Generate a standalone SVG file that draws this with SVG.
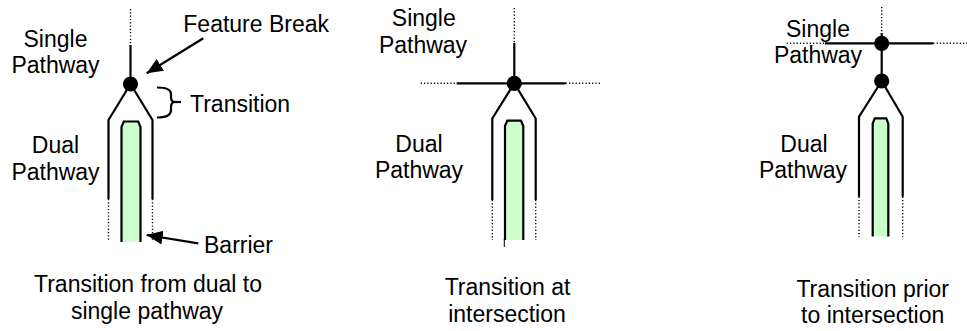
<svg xmlns="http://www.w3.org/2000/svg" width="967" height="331" viewBox="0 0 967 331">
<defs>
<style>
.t{font-family:"Liberation Sans",Arial,sans-serif;font-size:23px;fill:#000}
.m{text-anchor:middle}
.s{stroke:#000;stroke-width:2.2;fill:none;stroke-linecap:butt}
.d{stroke:#000;stroke-width:1.4;fill:none;stroke-dasharray:1.2 2.1}
.dot{fill:#000}
.bar{fill:#CCFFCC;stroke:#000;stroke-width:2.2}
</style>
<marker id="ah" markerUnits="userSpaceOnUse" markerWidth="18" markerHeight="16" refX="16" refY="7" orient="auto">
<path d="M0,0 L16,7 L0,14 Z" fill="#000"/>
</marker>
</defs>
<rect width="967" height="331" fill="#fff"/>

<g id="panel-left">
<line class="d" x1="130.5" y1="9" x2="130.5" y2="45"/>
<line class="s" x1="130.5" y1="45" x2="130.5" y2="84"/>
<polyline class="s" points="108.5,199 108.5,120 130.5,84 152.5,120 152.5,199"/>
<line class="d" x1="108.5" y1="199" x2="108.5" y2="241"/>
<line class="d" x1="152.5" y1="199" x2="152.5" y2="241"/>
<path class="bar" d="M121.5,242 L121.5,127 L123.8,121.5 L138.2,121.5 L140.5,127 L140.5,242"/>
<circle class="dot" cx="130.5" cy="84" r="7.6"/>
<text class="t m" x="55.5" y="47">Single</text>
<text class="t m" x="55.5" y="73.3">Pathway</text>
<text class="t m" x="55.5" y="152.7">Dual</text>
<text class="t m" x="55.5" y="179.5">Pathway</text>
<text class="t" x="183.3" y="32.3">Feature Break</text>
<path class="s" d="M157,87.5 Q171,87.5 171,94 L171,97 Q171,102 175,102 Q171,102 171,107 L171,110 Q171,117.5 157,117.5"/>
<line class="s" x1="175" y1="102" x2="181" y2="102"/>
<text class="t" x="190" y="111.7">Transition</text>
<text class="t" x="204" y="253.3">Barrier</text>
<text class="t m" x="148" y="291.7">Transition from dual to</text>
<text class="t m" x="147" y="319">single pathway</text>
</g>

<g id="panel-middle">
<line class="d" x1="514.3" y1="8" x2="514.3" y2="43"/>
<line class="s" x1="514.3" y1="43" x2="514.3" y2="83.3"/>
<line class="d" x1="420.7" y1="83.3" x2="456.7" y2="83.3"/>
<line class="s" x1="456.7" y1="83.3" x2="565.7" y2="83.3"/>
<line class="d" x1="565.7" y1="83.3" x2="601.7" y2="83.3"/>
<polyline class="s" points="492.3,200 492.3,118.5 514.3,83.3 535.7,118.5 535.7,200"/>
<line class="d" x1="492.3" y1="200" x2="492.3" y2="240"/>
<line class="d" x1="535.7" y1="200" x2="535.7" y2="240"/>
<path class="bar" d="M505,240 L505,126 L507.3,120.7 L521,120.7 L523.3,126 L523.3,240"/>
<line stroke="#000" stroke-width="1" x1="504.3" y1="239" x2="504.3" y2="247"/>
<circle class="dot" cx="514.3" cy="83.3" r="7.6"/>
<text class="t m" x="423.8" y="26">Single</text>
<text class="t m" x="423" y="53">Pathway</text>
<text class="t m" x="419" y="151.7">Dual</text>
<text class="t m" x="419" y="178">Pathway</text>
<text class="t m" x="507.5" y="295">Transition at</text>
<text class="t m" x="507" y="321.7">intersection</text>
</g>

<g id="panel-right">
<line class="d" x1="881.7" y1="7" x2="881.7" y2="33"/>
<line class="s" x1="881.7" y1="33" x2="881.7" y2="81"/>
<line class="d" x1="786.7" y1="43.3" x2="825" y2="43.3"/>
<line class="s" x1="825" y1="43.3" x2="933.3" y2="43.3"/>
<line class="d" x1="933.3" y1="43.3" x2="967" y2="43.3"/>
<polyline class="s" points="859,196.7 859,116.7 881.7,81 902.7,116.7 902.7,196.7"/>
<line class="d" x1="859" y1="196.7" x2="859" y2="237"/>
<line class="d" x1="902.7" y1="196.7" x2="902.7" y2="237"/>
<path class="bar" d="M872.7,236.5 L872.7,123.5 L874.8,118.3 L886.2,118.3 L888.3,123.5 L888.3,236.5"/>
<circle class="dot" cx="881.7" cy="43.3" r="7.6"/>
<circle class="dot" cx="881.7" cy="81" r="7.6"/>
<text class="t m" x="818" y="36.7">Single</text>
<text class="t m" x="818" y="63.3">Pathway</text>
<text class="t m" x="804" y="151.7">Dual</text>
<text class="t m" x="803" y="178.3">Pathway</text>
<text class="t m" x="872.7" y="297.3">Transition prior</text>
<text class="t m" x="872.7" y="323.3">to intersection</text>
</g>

<g id="connectors">
<line class="s" x1="203.3" y1="38.3" x2="146.7" y2="73.3" marker-end="url(#ah)"/>
<line class="s" x1="198.3" y1="243.3" x2="146.7" y2="235" marker-end="url(#ah)"/>
</g>
</svg>
